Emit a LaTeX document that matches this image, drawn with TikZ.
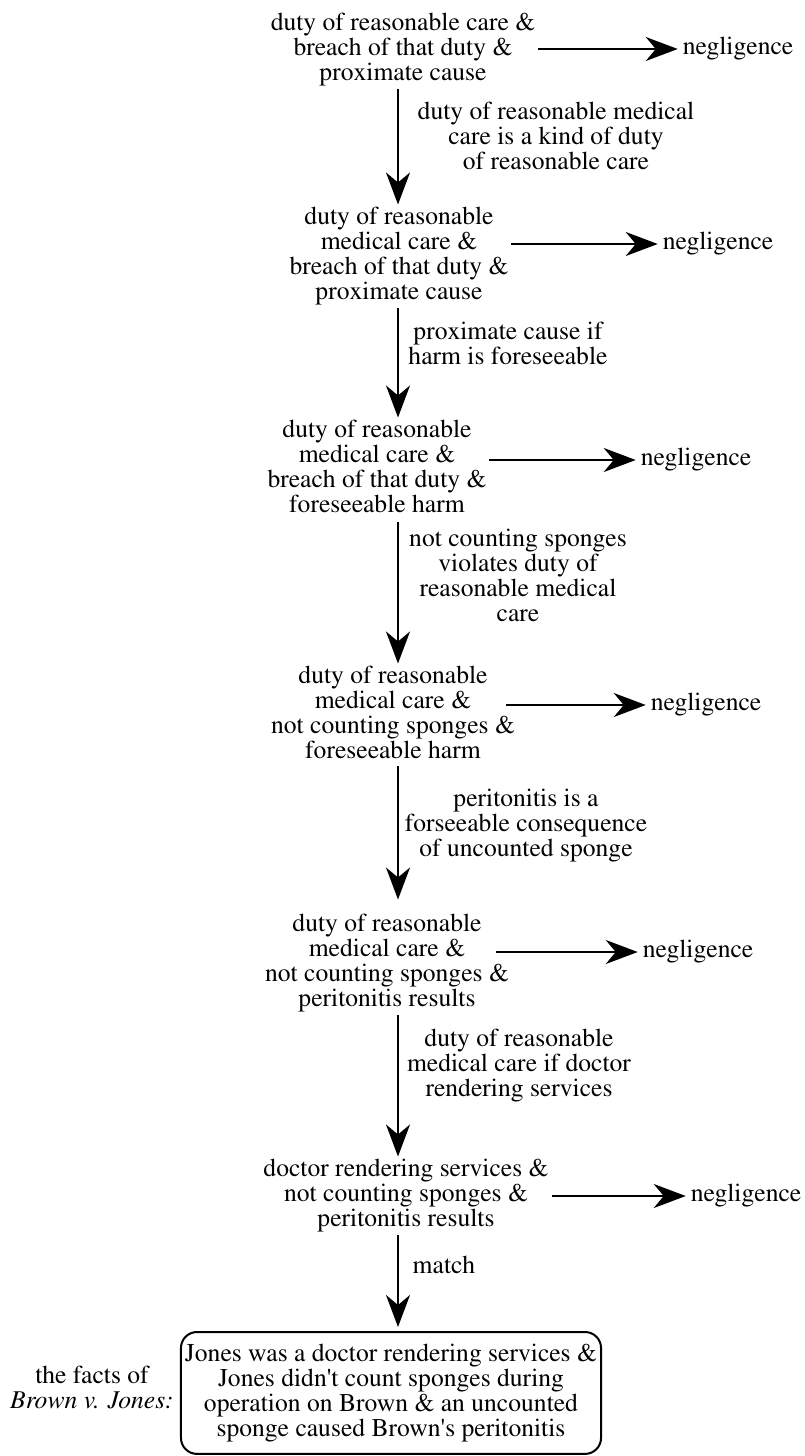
\documentclass[tikz,border=0pt]{standalone}
\usepackage[T1]{fontenc}
\renewcommand{\rmdefault}{ptm}
\usetikzlibrary{arrows.meta,positioning}

\begin{document}
\begin{tikzpicture}[x=0.5pt, y=-0.5pt, line width=1pt,
	>={Stealth[length=16pt,width=12pt,inset=5pt]},
	claim/.style={align=center, anchor=north, font=\fontsize{12.8}{12.5}\selectfont, inner sep=1pt},
	result/.style={font=\fontsize{12.8}{12.5}\selectfont, inner sep=1pt},
	why/.style={claim},
	factbox/.style={claim, draw, rounded corners=8pt, inner xsep=2pt, inner ysep=6pt}]

		\useasboundingbox (0,0) rectangle (804,1456);
		\coordinate (spine) at (398,0);

		\node[claim] (c1) at (403,10.5) {duty of reasonable care \&\\breach of that duty \&\\proximate cause};
		\node[claim] (c2) at (399,204.5) {duty of reasonable\\medical care \&\\breach of that duty \&\\proximate cause};
		\node[claim] (c3) at (377,417.5) {duty of reasonable\\medical care \&\\breach of that duty \&\\foreseeable harm};
		\node[claim] (c4) at (393,663.5) {duty of reasonable\\medical care \&\\not counting sponges \&\\foreseeable harm};
		\node[claim] (c5) at (387,911.5) {duty of reasonable\\medical care \&\\not counting sponges \&\\peritonitis results};
		\node[claim] (c6) at (406,1156.5) {doctor rendering services \&\\not counting sponges \&\\peritonitis results};
		\node[factbox] (facts) at (391,1331) {Jones was a doctor rendering services \&\\Jones didn\textquotesingle t count sponges during\\operation on Brown \& an uncounted\\sponge caused Brown\textquotesingle s peritonitis};
		\node[claim] (case) at (92,1363.5) {the facts of\\\textit{Brown v. Jones:}};

		\node[result] (n1) at (738,49) {negligence};
		\node[result] (n2) at (718,244) {negligence};
		\node[result] (n3) at (696,460) {negligence};
		\node[result] (n4) at (706,705) {negligence};
		\node[result] (n5) at (698,952) {negligence};
		\node[result] (n6) at (746,1196) {negligence};

		\node[why] (w1) at (556,99.5) {duty of reasonable medical\\care is a kind of duty\\of reasonable care};
		\node[why] (w2) at (508,319.5) {proximate cause if\\harm is foreseeable};
		\node[why] (w3) at (518,526.5) {not counting sponges\\violates duty of\\reasonable medical\\care};
		\node[why] (w4) at (526,786.5) {peritonitis is a\\forseeable consequence\\of uncounted sponge};
		\node[why] (w5) at (519,1026.5) {duty of reasonable\\medical care if doctor\\rendering services};
		\node[why] (w6) at (444,1253.5) {match};

		\path[->, shorten >=1pt]
		(c1.east |- n1) edge (n1)
		(c2.east |- n2) edge (n2)
		(c3.east |- n3) edge (n3)
		(c4.east |- n4) edge[shorten <=-6pt] (n4)
		(c5.east |- n5) edge[shorten <=-8pt] (n5)
		(c6.east |- n6) edge (n6);

		\path[->]
		(c1.south -| spine) edge (c2.north -| spine)
		(c2.south -| spine) edge (c3.north -| spine)
		(c3.south -| spine) edge[shorten <=3pt] (c4.north -| spine)
		(c4.south -| spine) edge[shorten <=2pt, shorten >=6pt] (c5.north -| spine)
		(c5.south -| spine) edge (c6.north -| spine)
		(c6.south -| spine) edge[shorten >=2pt] (facts.north -| spine);

		\end{tikzpicture}
\end{document}
